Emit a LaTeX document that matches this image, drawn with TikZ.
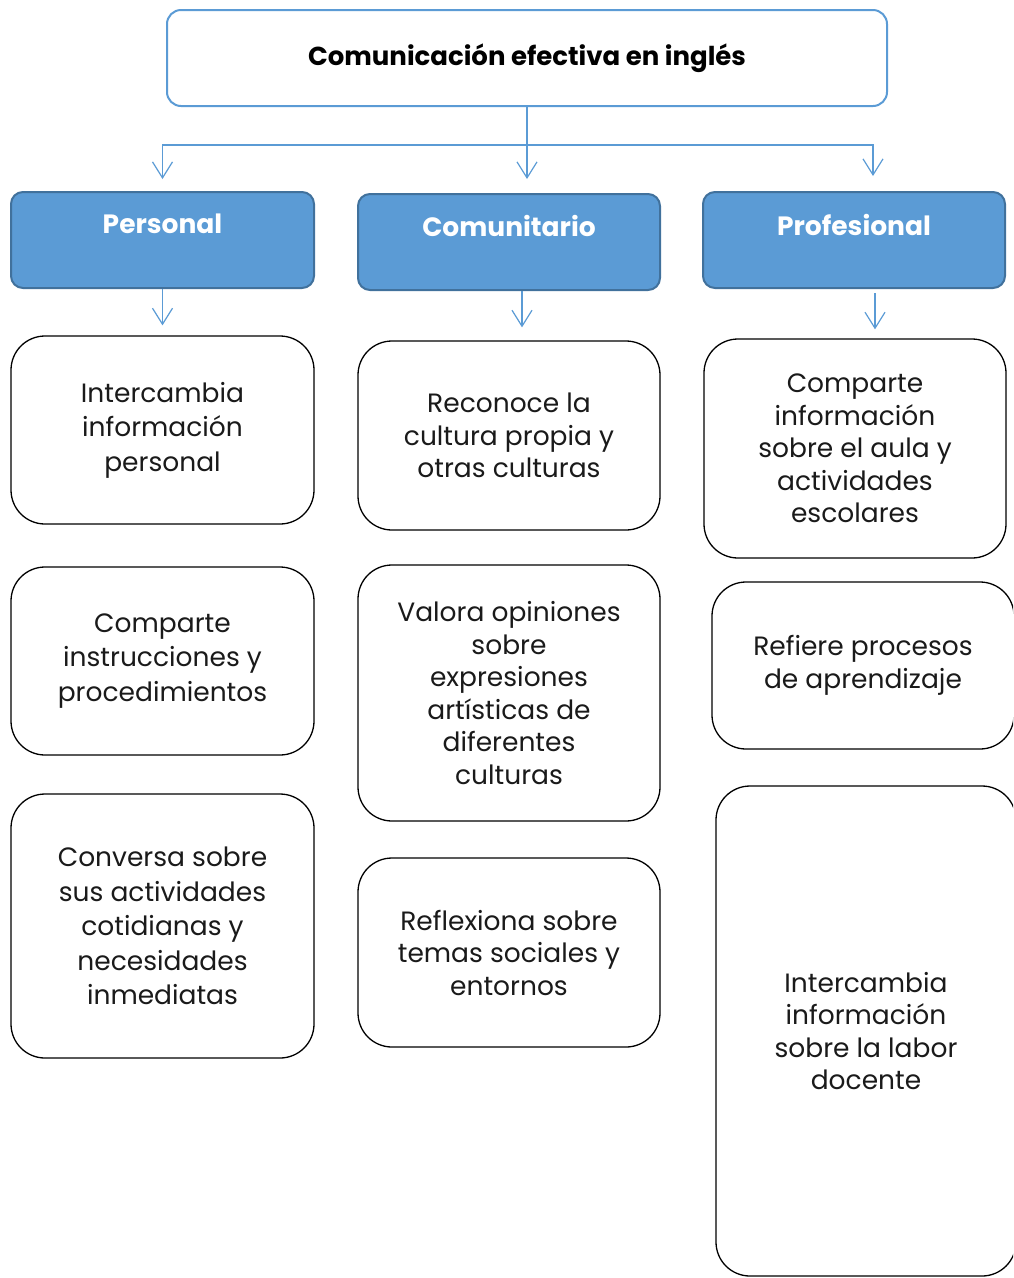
\documentclass[tikz,border=0pt]{standalone}
\usepackage{fontspec}
\setmainfont{Poppins}
\usetikzlibrary{arrows.meta}
\definecolor{hblue}{HTML}{5B9BD5}
\definecolor{hdark}{HTML}{41719C}
\definecolor{ink}{HTML}{1A1A1A}
\begin{document}
\begin{tikzpicture}[x=1pt,y=-1pt,
  titlebox/.style={draw=hblue,line width=2pt,rounded corners=14pt,fill=white,
    minimum width=720pt,minimum height=96pt,inner sep=0pt,
    font=\fontsize{26}{30}\selectfont\bfseries,text=black},
  headbox/.style={draw=hdark,line width=2pt,rounded corners=12pt,fill=hblue,
    minimum width=303pt,minimum height=96pt,inner sep=0pt},
  headtext/.style={font=\fontsize{26.5}{30}\selectfont\bfseries,text=white,inner sep=0pt},
  itembox/.style={draw=black,line width=1.3pt,rounded corners=34pt,fill=white,
    minimum width=302pt,inner sep=0pt,align=center,
    font=\fontsize{26.5}{32.5}\selectfont,text=ink},
  widesp/.style={font=\fontsize{26.5}{34.5}\selectfont},
  conn/.style={draw=hblue,line width=1.2pt,-{Straight Barb[length=16pt,width=20pt,line width=1.2pt]}}
]
\useasboundingbox (0,0) rectangle (1013,1278);
\clip (0,0) rectangle (1013,1278);

% title
\node[titlebox] (t) at (527,58) {Comunicación efectiva en inglés};

% headers
\node[headbox] (p) at (162.5,240) {};
\node[headtext] (pt) at (162.5,224) {Personal};
\node[headbox,minimum width=302pt] (c) at (509,242) {};
\node[headtext] (ct) at (509,226) {Comunitario};
\node[headbox,minimum width=302pt] (f) at (854,240) {};
\node[headtext] (ft) at (854,225) {Profesional};

% items column 1
\node[itembox,widesp,minimum width=303pt,minimum height=188pt] (a1) at (162.5,430) {Intercambia\\información\\personal};
\node[itembox,widesp,minimum width=303pt,minimum height=188pt] (a2) at (162.5,661) {Comparte\\instrucciones y\\procedimientos};
\node[itembox,widesp,minimum width=303pt,minimum height=264pt] (a3) at (162.5,926) {Conversa sobre\\sus actividades\\cotidianas y\\necesidades\\inmediatas};

% items column 2
\node[itembox,minimum height=189pt] (b1) at (509,435.5) {Reconoce la\\cultura propia y\\otras culturas};
\node[itembox,minimum height=256pt] (b2) at (509,693) {Valora opiniones\\sobre\\expresiones\\artísticas de\\diferentes\\culturas};
\node[itembox,minimum height=189pt] (b3) at (509,952.5) {Reflexiona sobre\\temas sociales y\\entornos};

% items column 3
\node[itembox,minimum height=219pt] (d1) at (855,448.5) {Comparte\\información\\sobre el aula y\\actividades\\escolares};
\node[itembox,minimum height=167pt] (d2) at (863,665.5) {Refiere procesos\\de aprendizaje};
\node[itembox,minimum width=300pt,minimum height=490pt] (d3) at (866,1031) {Intercambia\\información\\sobre la labor\\docente};

% connectors from title
\draw[conn] (t.south) -- ++(0,38) -| ([yshift=12pt]p.north);
\draw[conn] (t.south) -- ++(0,38) -| ([xshift=19pt,yshift=15pt]f.north);
\draw[conn] (t.south) -- ([yshift=14pt]t.south |- c.north);

% connectors from headers
\draw[conn] (p.south) -- ([yshift=10pt]a1.north);
\draw[conn] ([xshift=13pt]c.south) -- ([xshift=13pt,yshift=13pt]c.south |- b1.north);
\draw[conn] ([xshift=21pt,yshift=-4pt]f.south) -- ([xshift=21pt,yshift=9pt]f.south |- d1.north);
\end{tikzpicture}
\end{document}
